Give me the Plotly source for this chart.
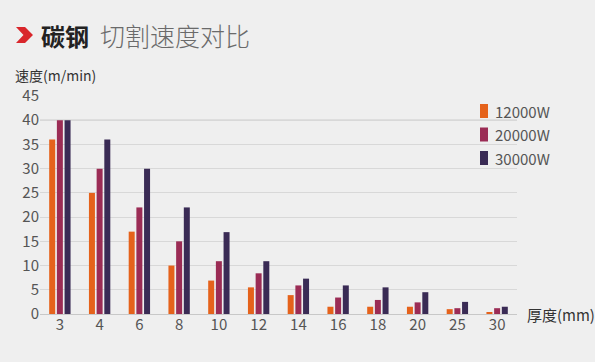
import plotly.graph_objects as go

thickness = ["3", "4", "6", "8", "10", "12", "14", "16", "18", "20", "25", "30"]
speed_12000 = [36, 25, 17, 10, 6.9, 5.5, 3.9, 1.5, 1.5, 1.5, 1.0, 0.3]
speed_20000 = [40, 30, 22, 15, 10.9, 8.4, 5.9, 3.4, 2.9, 2.4, 1.2, 1.2]
speed_30000 = [40, 36, 30, 22, 16.9, 10.9, 7.3, 5.9, 5.5, 4.5, 2.5, 1.5]
series_names = ["12000W", "20000W", "30000W"]
series_colors = ["#E5621B", "#9B2C55", "#3A2B55"]
highlight_grid = 40

W, H = 595, 362
PL, PR, PT, PB = 40, 517, 96, 314
FONT = "Noto Sans CJK SC"


def px(x):
    return (x - PL) / (PR - PL)


def py(y):
    return (PB - y) / (PB - PT)


fig = go.Figure()
for name, vals, col in zip(series_names, [speed_12000, speed_20000, speed_30000], series_colors):
    fig.add_trace(go.Bar(x=thickness, y=vals, name=name, showlegend=False,
                         marker=dict(color=col, line=dict(width=0))))

chev = [(16, 27), (25, 27), (33, 35), (25, 43), (16, 43), (23.5, 35)]
path = "M " + " L ".join(f"{px(a):.4f},{py(b):.4f}" for a, b in chev) + " Z"

shapes = [
    dict(type="path", xref="paper", yref="paper", path=path,
         fillcolor="#D9262B", line=dict(width=0)),
    dict(type="line", xref="paper", yref="y", x0=0, x1=1, y0=highlight_grid, y1=highlight_grid,
         line=dict(color="#B4B4B4", width=1), layer="below"),
]
annotations = [
    dict(text="<b>碳钢</b>", x=px(39), y=py(35), xref="paper", yref="paper",
         xanchor="left", yanchor="middle", showarrow=False,
         font=dict(size=24, color="#222222", family=FONT)),
    dict(text="切割速度对比", x=px(98), y=py(35), xref="paper", yref="paper",
         xanchor="left", yanchor="middle", showarrow=False,
         font=dict(size=25, color="#6A6A6A", family=FONT, weight=300)),
    dict(text="速度(m/min)", x=px(13), y=py(75), xref="paper", yref="paper",
         xanchor="left", yanchor="middle", showarrow=False,
         font=dict(size=14, color="#333333", family=FONT)),
    dict(text="厚度(mm)", x=px(525), y=py(314), xref="paper", yref="paper",
         xanchor="left", yanchor="middle", showarrow=False,
         font=dict(size=15, color="#333333", family=FONT)),
]

# manual legend
for i, (name, col) in enumerate(zip(series_names, series_colors)):
    cy = 111 + i * 23.5
    shapes.append(dict(type="rect", xref="paper", yref="paper",
                       x0=px(480), x1=px(488), y0=py(cy - 7), y1=py(cy + 7),
                       fillcolor=col, line=dict(width=0)))
    annotations.append(dict(text=name, x=px(493), y=py(cy), xref="paper", yref="paper",
                            xanchor="left", yanchor="middle", showarrow=False,
                            font=dict(size=15, color="#555555", family=FONT)))

fig.update_layout(
    width=W, height=H,
    margin=dict(l=PL, r=W - PR, t=PT, b=H - PB),
    paper_bgcolor="#EFEFEF", plot_bgcolor="#EFEFEF",
    barmode="group", bargap=0.42, bargroupgap=0.22,
    font=dict(family=FONT, color="#555555", size=15),
    xaxis=dict(type="category", showgrid=False, showline=False, ticks="",
               tickfont=dict(size=15, color="#555555"), fixedrange=True),
    yaxis=dict(range=[0, 45], dtick=5, showgrid=True, gridcolor="#D8D8D8", gridwidth=1,
               zeroline=True, zerolinecolor="#C8C8C8", zerolinewidth=1, showline=False,
               ticks="", tickfont=dict(size=15, color="#555555"), fixedrange=True),
    shapes=shapes,
    annotations=annotations,
)

fig.write_html("out.html", config={"displayModeBar": False},
               post_script="document.body.style.margin='0';document.body.style.background='#EFEFEF';")
